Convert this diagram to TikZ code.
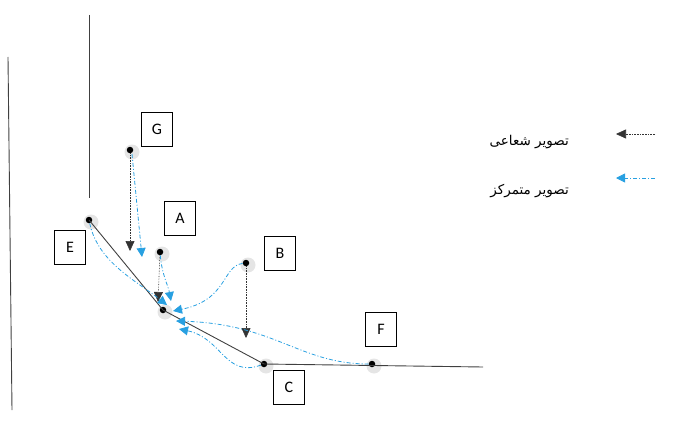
\documentclass[tikz,border=0pt]{standalone}
\usepackage{fontspec}
\setsansfont{Carlito}
\newfontfamily\arabicfont[Script=Arabic]{DejaVu Sans}
\TeXXeTstate=1
\usetikzlibrary{arrows.meta}
\definecolor{bl}{RGB}{40,160,225}
\begin{document}
\begin{tikzpicture}[x=1pt,y=-1pt,
 lbl/.style={draw,thin,minimum width=31pt,minimum height=34pt,font=\sffamily\fontsize{16}{16}\selectfont,inner sep=0pt},
 dotpt/.style={circle,fill=black,inner sep=0pt,minimum size=6.5pt},
 shd/.style={circle,fill=gray!20,inner sep=0pt,minimum size=15pt},
 ray/.style={densely dotted,black!80,line width=0.6pt,-{Triangle[length=10pt,width=9pt]}},
 cen/.style={bl,line width=0.8pt,dash pattern=on 4pt off 2pt on 1pt off 2pt,-{Triangle[length=9pt,width=9pt]}},
 ln/.style={black!75,line width=0.9pt},
 leg/.style={anchor=east,font=\arabicfont\fontsize{13.5}{13.5}\selectfont,inner sep=0pt}]
\useasboundingbox (0,0) rectangle (683,436);
% shadows
\foreach \px/\py in {130/150,160/252,246/263,163/310,264/364,372/364,89/220}
  \node[shd] at (\px+2,\py+2) {};
% dots
\node[dotpt] (G) at (130,150) {};
\node[dotpt] (A) at (160,252) {};
\node[dotpt] (B) at (246,263) {};
\node[dotpt] (P) at (163,310) {};
\node[dotpt] (C) at (264,364) {};
\node[dotpt] (F) at (372,364) {};
\node[dotpt] (E) at (89,220) {};
% labels
\node[lbl] (Gl) at (157,129) {G};
\node[lbl] (Al) at (180,218) {A};
\node[lbl] (Bl) at (280,253) {B};
\node[lbl] (Cl) at (289,387) {C};
\node[lbl] (El) at (70,247) {E};
\node[lbl] (Fl) at (381,329) {F};
% main lines
\coordinate (end) at (483,367);
\draw[ln] (E.center) -- (P.center) -- (C.center) -- (end);
\coordinate (v1a) at (89,15);
\coordinate (v1b) at (89,198);
\draw[ln] (v1a) -- (v1b);
\coordinate (v2a) at (8,57);
\coordinate (v2b) at (12,410);
\draw[ln] (v2a) -- (v2b);
% radial (black dotted)
\coordinate (gk) at (130,251);
\coordinate (ak) at (158,302);
\coordinate (bk) at (246,338);
\draw[ray] (G) -- (gk);
\draw[ray] (A) -- (ak);
\draw[ray] (B) -- (bk);
% centralized (blue dash-dot)
\coordinate (gs) at (132,154);
\coordinate (gb) at (142,257);
\draw[cen] (gs) -- (gb);
\coordinate (ab) at (171,301);
\draw[cen] (A) .. controls (162,275) and (168,285) .. (ab);
\coordinate (bb) at (173,311);
\draw[cen] (B) .. controls (222,266) and (228,300) .. (bb);
\coordinate (eb) at (167,305);
\draw[cen] (E) .. controls (98,262) and (135,280) .. (eb);
\coordinate (fb) at (176,321);
\draw[cen] (F) .. controls (300,364) and (275,324) .. (fb);
\coordinate (cb) at (179,329);
\draw[cen] (C) .. controls (225,378) and (222,338) .. (cb);
% legend
\coordinate (l1a) at (655,134);
\coordinate (l1b) at (616,134);
\draw[ray] (l1a) -- (l1b);
\coordinate (l2a) at (655,178);
\coordinate (l2b) at (616,178);
\draw[cen] (l2a) -- (l2b);
\node[leg] (t1) at (569,142) {\beginR تصویر شعاعی\endR};
\node[leg] (t2) at (569,191) {\beginR تصویر متمرکز\endR};
\end{tikzpicture}
\end{document}
